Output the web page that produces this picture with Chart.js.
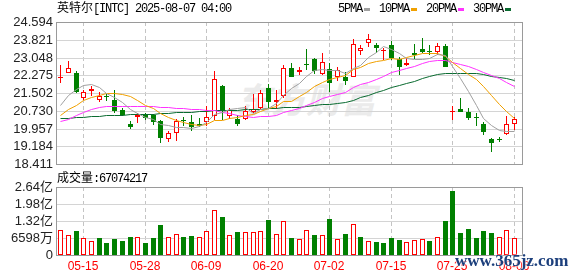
<!DOCTYPE html>
<html>
<head>
<meta charset="utf-8">
<script src="https://cdn.jsdelivr.net/npm/chart.js@4.4.1/dist/chart.umd.min.js"></script>
<style>
  html, body { margin: 0; padding: 0; background: #fff; }
  #wrap { position: relative; width: 578px; height: 276px; overflow: hidden; }
  canvas { position: absolute; left: 0; }
  .txt { position: absolute; font-family: 'Liberation Mono', monospace; font-size: 12px; line-height: 12px; color: #000; white-space: nowrap; }
  .cjk { font-family: 'Noto Sans CJK SC', sans-serif; letter-spacing: 0; }
  .mono { font-family: 'Liberation Mono', monospace; letter-spacing: -1.2px; }
  #legend { position: absolute; left: 338px; top: 3px; display: flex; align-items: center; }
  #legend .dash { display: inline-block; width: 6px; height: 3px; margin: 0 9px 0 2px; }
  #wm { position: absolute; left: 236px; top: 72px; font: italic bold 35px 'Noto Sans CJK SC', sans-serif; color: #ebebeb; }
  #site { position: absolute; left: 455px; top: 252px; font: bold 17px 'Liberation Serif', serif; line-height: 17px; color: #1c3f7c; text-shadow: 0 0 2px #fff, 0 0 2px #fff; }
</style>
</head>
<body>
<div id="wrap">
  <div id="wm">东方财富</div>
  <canvas id="kline" width="578" height="175" style="top:0"></canvas>
  <canvas id="vol" width="578" height="101" style="top:175px"></canvas>
  <div class="txt" style="left:57px;top:1px"><span class="cjk">英特尔</span><span class="mono">[INTC] 2025-08-07 04:00</span></div>
  <div id="legend" class="txt"></div>
  <div id="volLabel" class="txt" style="left:57px;top:171px"></div>
  <div id="site">www.365jz.com</div>
</div>
<script>
// INTC daily candles, 2025-05-12 .. 2025-08-06
const dates = ['05-12','05-13','05-14','05-15','05-16','05-19','05-20','05-21','05-22','05-23',
  '05-27','05-28','05-29','05-30','06-02','06-03','06-04','06-05','06-06','06-09',
  '06-10','06-11','06-12','06-13','06-16','06-17','06-18','06-20','06-23','06-24',
  '06-25','06-26','06-27','06-30','07-01','07-02','07-03','07-07','07-08','07-09',
  '07-10','07-11','07-14','07-15','07-16','07-17','07-18','07-21','07-22','07-23',
  '07-24','07-25','07-28','07-29','07-30','07-31','08-01','08-04','08-05','08-06'];

const openP = [22.18,22.39,22.39,21.27,21.59,21.19,21.35,21.22,20.75,20.18,
  20.46,20.57,20.53,20.28,19.51,19.78,20.35,20.24,20.18,20.24,
  20.50,21.82,20.50,20.38,20.38,20.67,20.86,21.72,21.10,21.36,
  22.58,22.44,22.73,22.97,22.34,22.54,22.22,22.22,22.22,23.34,
  23.69,23.59,23.34,23.59,22.97,22.71,23.23,23.40,23.30,23.30,
  23.55,20.70,20.82,20.67,20.41,20.18,19.49,19.49,19.71,20.14];
const highP = [22.73,22.90,22.47,21.65,21.79,21.53,21.45,21.65,20.86,20.28,
  20.64,20.64,20.59,20.35,19.85,20.38,20.47,20.53,20.43,20.96,
  22.48,21.86,20.86,20.57,20.96,21.48,21.62,21.91,21.62,22.73,
  22.80,22.65,23.40,23.02,23.23,22.80,22.63,22.44,23.84,23.59,
  24.09,23.69,23.45,23.77,23.06,23.02,23.63,23.88,23.59,23.66,
  23.63,20.96,21.29,20.86,20.64,20.24,19.56,19.61,20.50,20.47];
const lowP = [21.94,22.37,21.51,21.22,21.39,21.10,21.14,20.64,20.50,19.94,
  20.19,20.35,20.12,19.32,19.37,19.42,20.09,19.85,20.04,20.09,
  20.35,20.35,20.38,20.09,20.35,20.64,20.79,20.86,20.79,21.29,
  22.20,22.30,22.50,22.34,22.30,21.53,22.01,21.86,22.20,23.16,
  23.52,23.23,22.94,22.94,22.30,22.68,22.97,23.23,23.16,23.16,
  22.63,20.35,20.67,20.35,20.09,19.66,18.94,19.37,19.66,19.89];
const closeP = [22.20,22.58,21.53,21.57,21.68,21.36,21.34,20.71,20.57,20.05,
  20.57,20.40,20.25,19.56,19.75,20.28,20.28,20.04,20.06,20.47,
  22.11,20.71,20.75,20.14,20.71,20.82,21.51,21.10,21.22,22.58,
  22.22,22.51,22.72,22.48,22.87,21.94,22.51,22.05,23.63,23.45,
  23.84,23.45,23.35,23.02,22.63,22.83,23.14,23.29,23.28,23.55,
  22.65,20.71,20.70,20.41,20.40,19.81,19.35,19.48,20.17,20.38];

const ma5 = [21.00,21.43,21.68,21.85,21.91,21.75,21.50,21.33,21.13,20.81,
  20.65,20.46,20.37,20.17,20.11,20.05,20.03,19.98,20.08,20.23,
  20.59,20.68,20.82,20.84,20.89,20.63,20.79,20.85,21.07,21.44,
  21.73,21.93,22.25,22.50,22.56,22.50,22.50,22.37,22.60,22.72,
  23.09,23.28,23.54,23.42,23.26,23.05,22.99,22.98,23.03,23.22,
  23.18,22.70,22.18,21.60,20.97,20.41,20.13,19.89,19.84,19.84];
const ma10 = [20.57,20.79,21.00,21.19,21.33,21.43,21.49,21.51,21.48,21.36,
  21.20,20.98,20.85,20.65,20.46,20.35,20.24,20.18,20.12,20.17,
  20.32,20.35,20.40,20.46,20.56,20.61,20.73,20.84,20.95,21.16,
  21.18,21.36,21.55,21.79,22.00,22.11,22.21,22.31,22.55,22.64,
  22.80,22.89,22.96,23.01,22.99,23.07,23.14,23.26,23.23,23.24,
  23.12,22.84,22.58,22.32,22.10,21.79,21.41,21.03,20.72,20.41];
const ma20 = [20.28,20.38,20.53,20.67,20.80,20.88,20.92,20.93,20.93,20.93,
  20.93,20.92,20.92,20.91,20.89,20.87,20.85,20.82,20.79,20.76,
  20.76,20.67,20.63,20.55,20.51,20.48,20.49,20.51,20.54,20.67,
  20.75,20.85,20.98,21.12,21.28,21.36,21.47,21.57,21.75,21.90,
  21.99,22.12,22.25,22.40,22.49,22.59,22.68,22.79,22.89,22.94,
  22.96,22.87,22.77,22.66,22.54,22.43,22.28,22.15,21.97,21.82];
const ma30 = [20.43,20.44,20.45,20.47,20.49,20.52,20.55,20.57,20.57,20.58,
  20.58,20.59,20.60,20.62,20.64,20.66,20.68,20.70,20.72,20.73,
  20.75,20.76,20.77,20.78,20.79,20.81,20.83,20.85,20.87,20.90,
  20.90,20.90,20.94,20.97,21.01,21.02,21.06,21.11,21.21,21.32,
  21.43,21.53,21.64,21.75,21.85,21.93,22.03,22.14,22.24,22.35,
  22.36,22.36,22.36,22.37,22.36,22.33,22.26,22.20,22.17,22.09];

const volumes = [96600000,76000000,92700000,65700000,54100000,65700000,46400000,61800000,54100000,69500000,
  69500000,46400000,65700000,115900000,69500000,81100000,69500000,73400000,69500000,92700000,
  173900000,146800000,77300000,88900000,88900000,88900000,92700000,135200000,81100000,131400000,
  65700000,61800000,96600000,77300000,77300000,139100000,61800000,81100000,119800000,69500000,
  54100000,50200000,46400000,65700000,58000000,50200000,58000000,61800000,54100000,69500000,
  131400000,247300000,85000000,100500000,65700000,92700000,85000000,69500000,96600000,67074217];
// 1 = red hollow volume bar, 0 = green
const volUp = [1,1,0,1,1,0,0,0,0,0, 1,0,0,0,1,1,0,0,1,1, 1,0,1,0,1,1,1,0,1,1,
  0,1,1,0,1,0,1,0,1,0, 1,0,0,0,0,1,1,1,0,1, 0,0,0,0,0,0,0,1,1,1];

const priceTicks = [18.411,19.184,19.957,20.730,21.502,22.275,23.048,23.821,24.594];
const volTicks = [0,65980000,131960000,197940000,263920000];
const volTickLabels = ['0','6598万','1.32亿','1.98亿','2.64亿'];
const dateTicks = ['05-15','05-28','06-09','06-20','07-02','07-15','07-25','08-06'];

const maNames = ['5PMA','10PMA','20PMA','30PMA'];
const maColors = ['#a0a0a0','#f0a000','#ff33ff','#0a6b30'];
const maData = [ma5, ma10, ma20, ma30];

const RED = '#ff0000', GREEN = '#008000';
const idx = dates.map((d, i) => i);
const tickIndex = dateTicks.map(d => dates.indexOf(d));
const up = idx.map(i => closeP[i] >= openP[i]);
const candleColor = idx.map(i => up[i] ? RED : GREEN);
const bodyFill = idx.map(i => !up[i] ? GREEN : (Math.abs(closeP[i] - openP[i]) < 0.03 ? RED : '#fff'));

// legend + volume caption
const legend = document.getElementById('legend');
maNames.forEach((n, k) => {
  legend.insertAdjacentHTML('beforeend',
    `<span class="mono">${n}</span><span class="dash" style="background:${maColors[k]}"></span>`);
});
document.getElementById('volLabel').innerHTML =
  `<span class="cjk">成交量</span><span class="mono">:${volumes[volumes.length - 1]}</span>`;

// half-pixel shift so 1px wicks and 5px bodies land on whole pixels
const crisp = {
  id: 'crisp',
  beforeDatasetDraw(chart, args) {
    chart.ctx.save();
    chart.ctx.translate(0.5, args.meta.type === 'line' ? 0.5 : 0);
  },
  afterDatasetDraw(chart) { chart.ctx.restore(); }
};
const frame = {
  id: 'frame',
  afterDraw(chart) {
    const { left, top, right, bottom } = chart.chartArea;
    const ctx = chart.ctx;
    ctx.save();
    ctx.strokeStyle = '#9a9a9a';
    ctx.lineWidth = 1;
    ctx.strokeRect(Math.round(left) + 0.5, Math.round(top) + 0.5, Math.round(right - left), Math.round(bottom - top));
    ctx.restore();
  }
};

const tickFont = { family: "'Liberation Sans', 'Noto Sans CJK SC', sans-serif", size: 13 };
const xRange = { min: -0.56, max: 60.04 };

function xScale(showLabels) {
  return {
    type: 'linear', min: xRange.min, max: xRange.max, offset: false, alignToPixels: true,
    afterBuildTicks: s => { s.ticks = tickIndex.map(v => ({ value: v })); },
    ticks: showLabels
      ? { display: true, color: RED, padding: 4, maxRotation: 0, autoSkip: false,
          font: { family: "'Liberation Sans', sans-serif", size: 12 }, callback: v => dates[v] }
      : { display: false },
    grid: { color: '#c4c4c4', drawTicks: false, offset: false },
    border: { display: false, dash: [4, 3] },
    afterFit: s => { s.height = showLabels ? 21 : 0; }
  };
}

new Chart(document.getElementById('kline'), {
  type: 'bar',
  data: {
    datasets: [
      ...maData.map((m, k) => ({
        type: 'line', label: maNames[k], data: idx.map(i => ({ x: i, y: m[i] })),
        borderColor: maColors[k], borderWidth: 1, pointRadius: 0, tension: 0, order: 0
      })),
      {
        label: 'body', data: idx.map(i => ({ x: i, y: [openP[i], closeP[i]] })),
        backgroundColor: bodyFill, borderColor: candleColor, borderWidth: 1, borderSkipped: false,
        barThickness: 5, minBarLength: 1, grouped: false, inflateAmount: 0, order: 1
      },
      {
        label: 'wick', data: idx.map(i => ({ x: i, y: [lowP[i], highP[i]] })),
        backgroundColor: candleColor, borderWidth: 0, barThickness: 1,
        grouped: false, inflateAmount: 0, order: 2
      }
    ]
  },
  options: {
    responsive: false, animation: false, events: [],
    layout: { padding: { left: 0, right: 56, top: 22, bottom: 10 } },
    plugins: { legend: { display: false }, tooltip: { enabled: false } },
    scales: {
      x: xScale(false),
      y: {
        type: 'linear', min: priceTicks[0], max: priceTicks[priceTicks.length - 1], alignToPixels: true,
        afterBuildTicks: s => { s.ticks = priceTicks.map(v => ({ value: v })); },
        afterFit: s => { s.width = 56; },
        ticks: { padding: 3, color: '#222', font: tickFont, autoSkip: false, callback: v => v.toFixed(3) },
        grid: { color: '#d4d4d4', drawTicks: false },
        border: { display: false }
      }
    }
  },
  plugins: [crisp, frame]
});

new Chart(document.getElementById('vol'), {
  type: 'bar',
  data: {
    datasets: [{
      label: 'volume', data: idx.map(i => ({ x: i, y: volumes[i] })),
      backgroundColor: volUp.map(u => u ? '#fff' : GREEN),
      borderColor: volUp.map(u => u ? RED : GREEN),
      borderWidth: 1, borderSkipped: false, barThickness: 5, grouped: false, inflateAmount: 0
    }]
  },
  options: {
    responsive: false, animation: false, events: [],
    layout: { padding: { left: 0, right: 56, top: 12, bottom: 0 } },
    plugins: { legend: { display: false }, tooltip: { enabled: false } },
    scales: {
      x: xScale(true),
      y: {
        type: 'linear', min: 0, max: volTicks[volTicks.length - 1], alignToPixels: true,
        afterBuildTicks: s => { s.ticks = volTicks.map(v => ({ value: v })); },
        afterFit: s => { s.width = 56; },
        ticks: { padding: 3, color: '#222', font: tickFont, autoSkip: false, callback: (v, i) => volTickLabels[i] },
        grid: { color: '#d4d4d4', drawTicks: false, lineWidth: c => (c.index === 0 ? 0 : 1) },
        border: { display: false }
      }
    }
  },
  plugins: [crisp, frame]
});
</script>
</body>
</html>
